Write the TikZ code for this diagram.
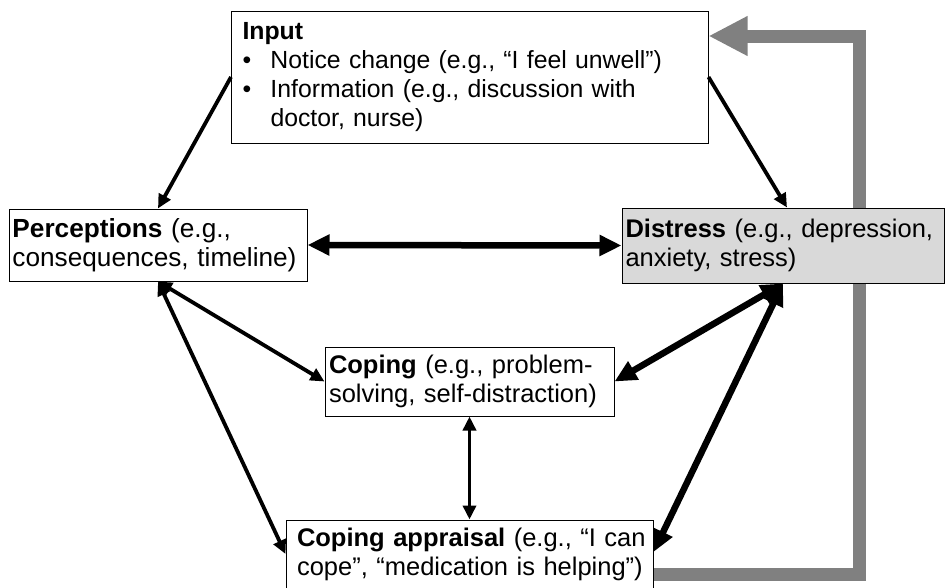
\documentclass[tikz,border=0pt]{standalone}
\usepackage{fontspec}
\setmainfont{Liberation Sans}
\usetikzlibrary{arrows.meta,calc,backgrounds}
\begin{document}
\begin{tikzpicture}[x=1pt,y=-1pt,
  box/.style={draw=black, line width=1pt, fill=white, rectangle, align=left,
    inner ysep=0pt, font=\fontsize{25.5}{29}\selectfont},
  thinarr/.style={line width=3.8pt,
    {Triangle[width=13pt,length=14pt]}-{Triangle[width=13pt,length=14pt]}},
  thinone/.style={line width=3.8pt, -{Triangle[width=13pt,length=14pt]}},
  thickarr/.style={line width=6.5pt,
    {Triangle[width=20pt,length=22pt]}-{Triangle[width=20pt,length=22pt]}},
  fbarrow/.style={draw=fbgray, line width=13pt, line join=miter,
    -{Triangle[width=37pt,length=39pt]}}
]
\definecolor{fbgray}{RGB}{128,128,128}
\definecolor{distfill}{RGB}{217,217,217}
\useasboundingbox (0,0) rectangle (946,587);

\node[box, font=\fontsize{24.8}{29.3}\selectfont, minimum width=476.5pt, minimum height=132pt,
  inner xsep=11pt, text width=454.5pt]
  (input) at (469.75,77)
  {\textbf{Input}\\
   \makebox[28pt][l]{•}Notice change (e.g., “I feel unwell”)\\
   \makebox[28pt][l]{•}Information (e.g., discussion with\\
   \hspace*{28pt}doctor, nurse)};

\node[box, font=\fontsize{26.2}{28.5}\selectfont, minimum width=298pt, minimum height=72pt,
  inner xsep=3.5pt, text width=291pt]
  (perc) at (158,245)
  {\mbox{\textbf{Perceptions} (e.g.,}\\\mbox{consequences, timeline)}};

\node[box, fill=distfill, minimum width=322pt, minimum height=75pt, inner xsep=3.5pt, text width=315pt]
  (dist) at (783,245.5)
  {\mbox{\textbf{Distress} (e.g., depression,}\\\mbox{anxiety, stress)}};

\node[box, minimum width=289pt, minimum height=69pt, inner xsep=4pt, text width=281pt]
  (coping) at (469.5,381.5)
  {\mbox{\textbf{Coping} (e.g., problem-}\\\mbox{solving, self-distraction)}};

\node[box, minimum width=367pt, minimum height=68pt, inner xsep=11pt, text width=345pt]
  (app) at (469.5,554)
  {\mbox{\textbf{Coping appraisal} (e.g., “I can}\\\mbox{cope”, “medication is helping”)}};

\coordinate (fbc) at (859.5,36);

% feedback arrow behind the boxes (the Distress box covers it)
\begin{scope}[on background layer]
  \draw[fbarrow] ([yshift=-20.5pt]app.east) -| (fbc) -- ([yshift=41pt]input.east);
\end{scope}

\draw[thinone] (input.west) -- (perc.north);
\draw[thinone] (input.east) -- ([xshift=4pt]dist.north);
\draw[thickarr] (perc.east) -- (dist.west);
\draw[thinarr] (perc.south) -- (coping.west);
\draw[thinarr] (perc.south) -- (app.west);
\draw[thickarr] (dist.south) -- (coping.east);
\draw[thickarr] (dist.south) -- ([yshift=2pt]app.east);
\draw[thinarr] (coping.south) -- (app.north);
\end{tikzpicture}
\end{document}
